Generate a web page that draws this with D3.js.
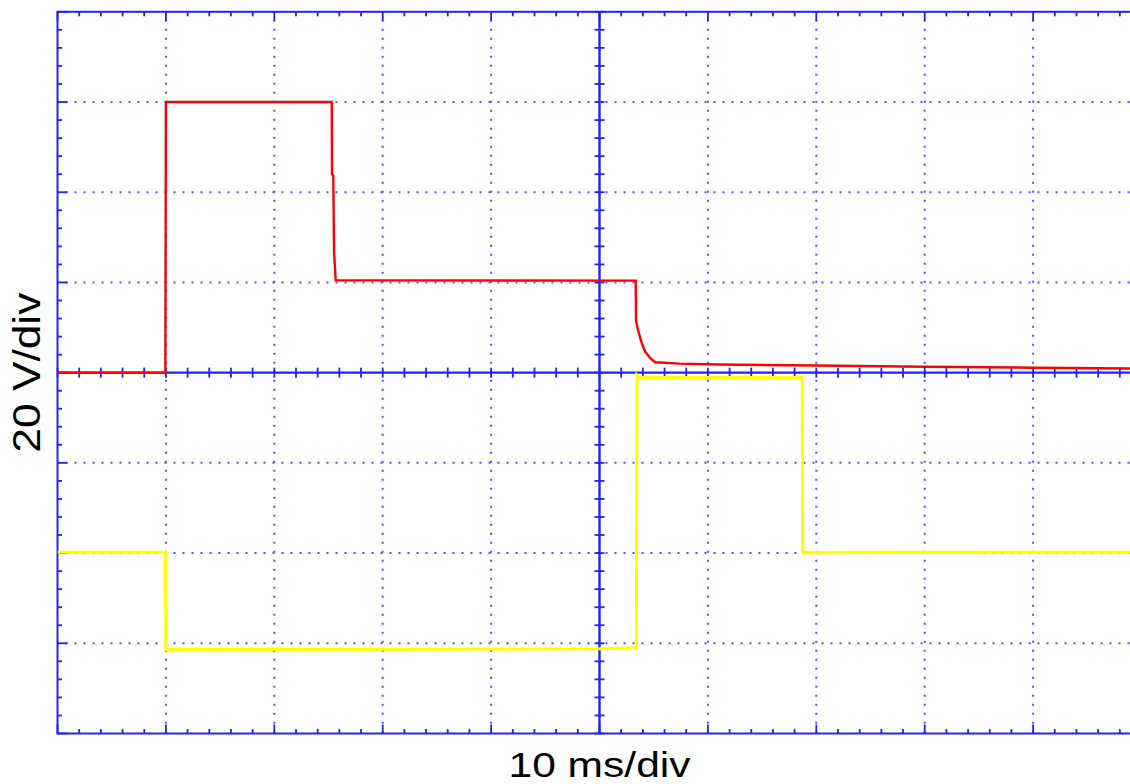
<!DOCTYPE html>
<html><head><meta charset="utf-8">
<script src="https://cdn.jsdelivr.net/npm/d3@7"></script>
<style>body{margin:0;background:#fff;overflow:hidden} svg{display:block}</style>
</head><body><svg id="c" width="1130" height="784"></svg>
<script>
// ---- data (time in ms, voltage in V) ----
const timeDomain = [-50, 50];
const voltDomain = [-80, 80];
const timeMajor = [-50, -40, -30, -20, -10, 0, 10, 20, 30, 40, 50];
const voltMajor = [-80, -60, -40, -20, 0, 20, 40, 60, 80];
const timeMinorStep = 2;
const voltMinorStep = 4;

const redTime = [-50, -40.05, -40, -24.7, -24.68, -24.56, -24.49, -24.34, 3.34, 3.37, 3.58, 3.89, 4.2, 4.66, 5.12, 7.4, 11, 20, 30, 40, 50];
const redVolt = [0, 0, 60, 60, 44, 43.7, 26.9, 20.5, 20.4, 11.4, 9.2, 6.6, 4.7, 3.25, 2.3, 2.0, 1.8, 1.6, 1.3, 1.1, 0.9];

const yellowTime = [-50, -40.05, -40, 0, 3.4, 3.46, 3.6, 18.7, 18.75, 50];
const yellowVolt = [-39.8, -39.8, -61.4, -61.2, -61.0, -0.6, -1.1, -1.1, -39.9, -39.8];

const xLabel = "10 ms/div";
const yLabel = "20 V/div";

// ---- drawing ----
const svg = d3.select("#c");
const L = 57.5, R = 1141.5, T = 11.8, B = 733.5;
const x = d3.scaleLinear().domain(timeDomain).range([L, R]);
const y = d3.scaleLinear().domain(voltDomain).range([B, T]);
const blue = "#2222ff", dotBlue = "#5252ff";

const timeMinor = d3.range(timeDomain[0], timeDomain[1] + 0.001, timeMinorStep);
const voltMinor = d3.range(voltDomain[0], voltDomain[1] + 0.001, voltMinorStep);
const isMajorT = t => timeMajor.some(m => Math.abs(m - t) < 1e-6);
const isMajorV = v => voltMajor.some(m => Math.abs(m - v) < 1e-6);

// dotted grid
const g = svg.append("g");
g.selectAll(".vg").data(timeMajor.filter(t => t !== 0 && t !== timeDomain[0] && t !== timeDomain[1]))
  .join("line").attr("x1", d => x(d)).attr("x2", d => x(d)).attr("y1", T).attr("y2", B)
  .attr("stroke", dotBlue).attr("stroke-width", 2).attr("stroke-dasharray", "2,7").attr("stroke-dashoffset", 1);
g.selectAll(".hg").data(voltMajor.filter(v => v !== 0 && v !== voltDomain[0] && v !== voltDomain[1]))
  .join("line").attr("y1", d => y(d)).attr("y2", d => y(d)).attr("x1", L).attr("x2", R)
  .attr("stroke", dotBlue).attr("stroke-width", 2).attr("stroke-dasharray", "2,7").attr("stroke-dashoffset", 1);

// border
svg.append("rect").attr("x", L).attr("y", T).attr("width", R - L).attr("height", B - T)
  .attr("fill", "none").attr("stroke", blue).attr("stroke-width", 2);

// border ticks
const tk = svg.append("g").attr("stroke", blue).attr("stroke-width", 1.8);
timeMinor.forEach(t => {
  const len = isMajorT(t) ? 9 : 4.5;
  tk.append("line").attr("x1", x(t)).attr("x2", x(t)).attr("y1", T).attr("y2", T + len);
  tk.append("line").attr("x1", x(t)).attr("x2", x(t)).attr("y1", B).attr("y2", B - len);
});
voltMinor.forEach(v => {
  const len = isMajorV(v) ? 10 : 4.5;
  tk.append("line").attr("y1", y(v)).attr("y2", y(v)).attr("x1", L).attr("x2", L + len);
  tk.append("line").attr("y1", y(v)).attr("y2", y(v)).attr("x1", R).attr("x2", R - len);
});

// center axes
const ax = svg.append("g").attr("stroke", blue);
ax.append("line").attr("x1", L).attr("x2", R).attr("y1", y(0)).attr("y2", y(0)).attr("stroke-width", 2.4);
ax.append("line").attr("y1", T).attr("y2", B).attr("x1", x(0)).attr("x2", x(0)).attr("stroke-width", 2.4);
timeMinor.forEach(t => {
  ax.append("line").attr("x1", x(t)).attr("x2", x(t)).attr("y1", y(0) - 5).attr("y2", y(0) + 5).attr("stroke-width", 1.8);
});
voltMinor.forEach(v => {
  ax.append("line").attr("y1", y(v)).attr("y2", y(v)).attr("x1", x(0) - 5).attr("x2", x(0) + 5).attr("stroke-width", 1.8);
});

// traces
svg.append("clipPath").attr("id", "clip").append("rect")
  .attr("x", L).attr("y", T).attr("width", R - L).attr("height", B - T);
const line = d3.line().x(d => x(d[0])).y(d => y(d[1]));
const tr = svg.append("g").attr("clip-path", "url(#clip)");
tr.append("path").datum(d3.zip(yellowTime, yellowVolt)).attr("d", line)
  .attr("fill", "none").attr("stroke", "#ffff00").attr("stroke-width", 3).attr("stroke-linejoin", "miter");
tr.append("path").datum(d3.zip(redTime, redVolt)).attr("d", line)
  .attr("fill", "none").attr("stroke", "#ff0000").attr("stroke-width", 2.4).attr("stroke-linejoin", "miter");

// labels
svg.append("text").attr("x", x(0)).attr("y", 777).attr("text-anchor", "middle")
  .attr("font-family", "Liberation Sans, Arial, sans-serif").attr("font-size", 35)
  .attr("textLength", 182).attr("lengthAdjust", "spacingAndGlyphs").attr("fill", "#000").text(xLabel);
svg.append("text").attr("transform", `translate(40,${y(0)}) rotate(-90)`).attr("text-anchor", "middle")
  .attr("font-family", "Liberation Sans, Arial, sans-serif").attr("font-size", 39)
  .attr("textLength", 160).attr("lengthAdjust", "spacingAndGlyphs").attr("fill", "#000").text(yLabel);
</script></body></html>
